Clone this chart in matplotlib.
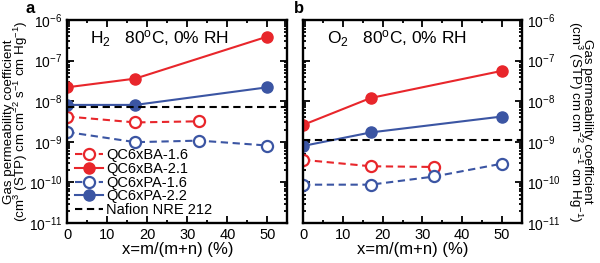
import matplotlib
matplotlib.use("Agg")
import matplotlib.pyplot as plt
from matplotlib.ticker import FixedLocator, MultipleLocator, NullFormatter

plt.rcParams['font.family'] = ['Liberation Sans', 'DejaVu Sans']
plt.rcParams['mathtext.fontset'] = 'custom'
plt.rcParams['mathtext.rm'] = 'Liberation Sans'
plt.rcParams['mathtext.it'] = 'Liberation Sans:italic'

x4 = [0, 17, 33, 50]
x3 = [0, 17, 33]
x_filled = [0, 17, 50]

# Panel a (H2)
h2_ba16 = [4.2e-9, 3.0e-9, 3.2e-9]
h2_ba21 = [2.2e-8, 3.6e-8, 3.9e-7]
h2_pa16 = [1.74e-9, 9.8e-10, 1.07e-9, 8.1e-10]
h2_pa22 = [8.1e-9, 8.1e-9, 2.2e-8]
h2_nafion = 7.0e-9

# Panel b (O2)
o2_ba16 = [3.6e-10, 2.5e-10, 2.4e-10]
o2_ba21 = [2.6e-9, 1.2e-8, 5.6e-8]
o2_pa16 = [8.8e-11, 8.8e-11, 1.4e-10, 2.9e-10]
o2_pa22 = [7.9e-10, 1.7e-9, 4.2e-9]
o2_nafion = 1.1e-9

labels = ['QC6xBA-1.6', 'QC6xBA-2.1', 'QC6xPA-1.6', 'QC6xPA-2.2', 'Nafion NRE 212']
decades = [-11, -10, -9, -8, -7, -6]
red = '#e8262b'
blue = '#3b55a3'

fig = plt.figure(figsize=(6.0, 2.63), dpi=100)
axa = fig.add_axes([0.112, 0.152, 0.367, 0.772])
axb = fig.add_axes([0.505, 0.152, 0.365, 0.772])

ylab = 'Gas permeability coefficient\n(cm$^3$ (STP) cm cm$^{-2}$ s$^{-1}$ cm Hg$^{-1}$)'
major = [10.0 ** d for d in decades]
minor = [m * 10.0 ** d for d in decades[:-1] for m in range(2, 10)]
ticklabels = ['10$^{%d}$' % d for d in decades]

def draw(ax, ba16, ba21, pa16, pa22, naf):
    ms = 8
    dash = (0, (3.5, 2.2))
    l1, = ax.plot(x3, ba16, marker='o', ls=dash, color=red, mfc='white', mec=red, ms=ms, lw=1.5, mew=1.6, label=labels[0])
    l2, = ax.plot(x_filled, ba21, '-o', color=red, ms=ms, lw=1.5, label=labels[1])
    l3, = ax.plot(x4, pa16, marker='o', ls=dash, color=blue, mfc='white', mec=blue, ms=ms, lw=1.5, mew=1.6, label=labels[2])
    l4, = ax.plot(x_filled, pa22, '-o', color=blue, ms=ms, lw=1.5, label=labels[3])
    l5 = ax.axhline(naf, color='black', ls=dash, lw=1.5, label=labels[4])
    ax.set_yscale('log')
    ax.set_ylim(1e-11, 1e-6)
    ax.set_xlim(0, 55)
    ax.xaxis.set_major_locator(MultipleLocator(10))
    ax.xaxis.set_minor_locator(MultipleLocator(5))
    ax.set_yticks(major)
    ax.set_yticklabels(ticklabels)
    ax.yaxis.set_minor_locator(FixedLocator(minor))
    ax.yaxis.set_minor_formatter(NullFormatter())
    ax.tick_params(which='both', direction='in', top=True, right=True, left=True, bottom=True, labelsize=10.5, width=1.3)
    ax.tick_params(axis='y', which='major', labelsize=10)
    ax.tick_params(which='major', length=5)
    ax.tick_params(which='minor', length=2.5)
    for s in ax.spines.values():
        s.set_linewidth(1.7)
    ax.set_xlabel('x=m/(m+n) (%)', fontsize=12, labelpad=0)
    return [l1, l2, l3, l4, l5]

handles = draw(axa, h2_ba16, h2_ba21, h2_pa16, h2_pa22, h2_nafion)
draw(axb, o2_ba16, o2_ba21, o2_pa16, o2_pa22, o2_nafion)

axa.set_ylabel(ylab, fontsize=9.6, linespacing=0.8)
axa.yaxis.set_label_coords(-0.168, 0.5)
axb.tick_params(axis='y', which='both', labelleft=False, labelright=True)
axb.yaxis.set_label_position('right')
axb.set_ylabel(ylab, fontsize=9.6, linespacing=0.8, rotation=-90, va='bottom')
axb.yaxis.set_label_coords(1.2, 0.5)

axa.text(0.105, 0.91, 'H$_2$   80$^{\\rm o}$C, 0% RH', transform=axa.transAxes, fontsize=12.5, va='center')
axb.text(0.11, 0.91, 'O$_2$   80$^{\\rm o}$C, 0% RH', transform=axb.transAxes, fontsize=12.5, va='center')

axa.legend(handles=handles, loc='lower left', frameon=False, fontsize=10.5, handlelength=1.9,
           handletextpad=0.2, labelspacing=-0.02, borderaxespad=0.0, bbox_to_anchor=(0.01, 0.0))

fig.text(0.043, 0.995, 'a', fontsize=12, fontweight='bold', va='top')
fig.text(0.49, 0.995, 'b', fontsize=12, fontweight='bold', va='top')

fig.savefig('out.png', dpi=100)
